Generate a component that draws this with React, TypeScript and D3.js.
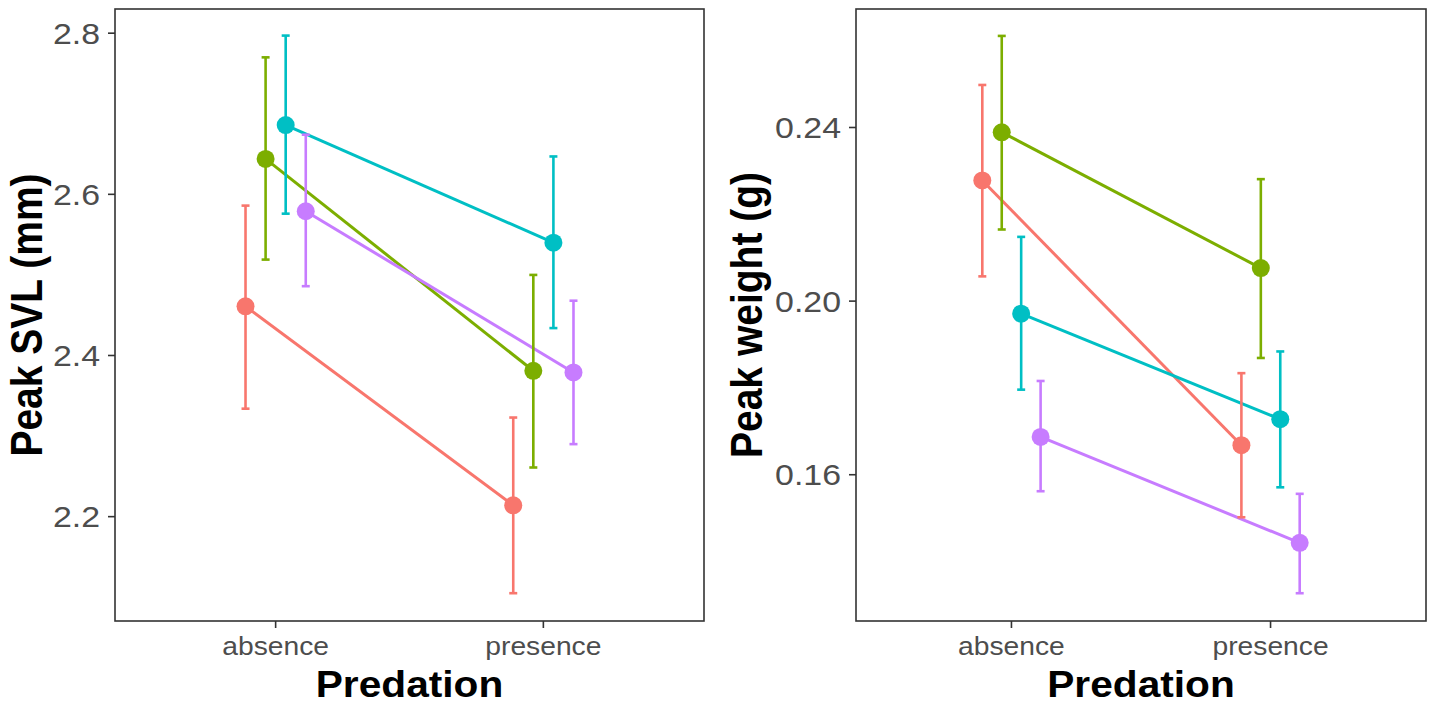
import React from "react";
import * as d3 from "d3";

const width = 1439;
const height = 704;

// predation levels and the four dodged groups (ggplot default hues)
const predation = ["absence", "presence"];
const colors = ["#F8766D", "#7CAE00", "#00BFC4", "#C77CFF"];

// Peak SVL (mm): [absence, presence] per group
const svlMean = [[2.461, 2.214], [2.644, 2.381], [2.686, 2.540], [2.579, 2.379]];
const svlLow = [[2.334, 2.105], [2.519, 2.261], [2.576, 2.434], [2.486, 2.290]];
const svlHigh = [[2.586, 2.323], [2.770, 2.500], [2.797, 2.647], [2.674, 2.468]];
const svlTicks = [2.2, 2.4, 2.6, 2.8];

// Peak weight (g)
const wtMean = [[0.2278, 0.1668], [0.2389, 0.2076], [0.1971, 0.1728], [0.1687, 0.1443]];
const wtLow = [[0.2057, 0.1502], [0.2165, 0.1869], [0.1796, 0.1571], [0.1562, 0.1327]];
const wtHigh = [[0.2498, 0.1834], [0.2611, 0.2281], [0.2148, 0.1884], [0.1816, 0.1556]];
const wtTicks = [0.16, 0.20, 0.24];

const font = "'Liberation Sans', Arial, Helvetica, sans-serif";
const stretch = 1.13;
const dodge = 0.3;

type PanelProps = {
  left: number;
  right: number;
  domain: [number, number];
  ticks: number[];
  fmt: (v: number) => string;
  mean: number[][];
  low: number[][];
  high: number[][];
  ylabel: string;
  titleX: number;
};

const top = 9;
const bottom = 621;

function Panel({ left, right, domain, ticks, fmt, mean, low, high, ylabel, titleX }: PanelProps) {
  const x = d3.scaleLinear().domain([0.4, 2.6]).range([left, right]);
  const y = d3.scaleLinear().domain(domain).range([bottom, top]);
  const n = colors.length;
  const xPos = (g: number, s: number) => x(g + 1 + (s - (n - 1) / 2) * (dodge / n));
  const line = d3.line<[number, number]>().x(d => d[0]).y(d => d[1]);
  const cap = 4;

  return (
    <g>
      {colors.map((c, s) => (
        <path
          key={"l" + s}
          d={line(predation.map((_, g) => [xPos(g, s), y(mean[s][g])]) as [number, number][]) || ""}
          stroke={c}
          strokeWidth={3}
          fill="none"
        />
      ))}
      {colors.map((c, s) =>
        predation.map((_, g) => {
          const cx = xPos(g, s);
          return (
            <g key={"e" + s + g} stroke={c} strokeWidth={2.6}>
              <line x1={cx} x2={cx} y1={y(low[s][g])} y2={y(high[s][g])} />
              <line x1={cx - cap} x2={cx + cap} y1={y(low[s][g])} y2={y(low[s][g])} />
              <line x1={cx - cap} x2={cx + cap} y1={y(high[s][g])} y2={y(high[s][g])} />
            </g>
          );
        })
      )}
      {colors.map((c, s) =>
        predation.map((_, g) => (
          <circle key={"p" + s + g} cx={xPos(g, s)} cy={y(mean[s][g])} r={9} fill={c} />
        ))
      )}
      <rect x={left} y={top} width={right - left} height={bottom - top} fill="none" stroke="#333333" strokeWidth={1.6} />
      {ticks.map(t => (
        <g key={"yt" + t}>
          <line x1={left - 7} x2={left} y1={y(t)} y2={y(t)} stroke="#333333" strokeWidth={1.6} />
          <text
            transform={`translate(${left - 15},${y(t) + 10.5}) scale(${stretch},1)`}
            textAnchor="end"
            fontSize={30}
            fontFamily={font}
            fill="#4d4d4d"
          >
            {fmt(t)}
          </text>
        </g>
      ))}
      {predation.map((p, g) => (
        <g key={"xt" + p}>
          <line x1={x(g + 1)} x2={x(g + 1)} y1={bottom} y2={bottom + 7} stroke="#333333" strokeWidth={1.6} />
          <text
            transform={`translate(${x(g + 1)},${655}) scale(${stretch},1)`}
            textAnchor="middle"
            fontSize={25}
            fontFamily={font}
            fill="#4d4d4d"
          >
            {p}
          </text>
        </g>
      ))}
      <text
        transform={`translate(${(left + right) / 2},${697}) scale(${stretch},1)`}
        textAnchor="middle"
        fontSize={36}
        fontWeight="bold"
        fontFamily={font}
        fill="#000"
      >
        Predation
      </text>
      <text
        transform={`translate(${titleX},${(top + bottom) / 2}) scale(${stretch},1) rotate(-90)`}
        textAnchor="middle"
        fontSize={39}
        fontWeight="bold"
        fontFamily={font}
        fill="#000"
      >
        {ylabel}
      </text>
    </g>
  );
}

export default function App() {
  // y domains from the panel edges
  const svlDomain: [number, number] = [2.0705, 2.830];
  const wtDomain: [number, number] = [0.1263, 0.2673];
  return (
    <svg
      width={width}
      height={height}
      style={{ position: "absolute", left: 0, top: 0, background: "#fff" }}
    >
      <rect width={width} height={height} fill="#fff" />
      <Panel
        left={115}
        right={704}
        domain={svlDomain}
        ticks={svlTicks}
        fmt={d3.format(".1f")}
        mean={svlMean}
        low={svlLow}
        high={svlHigh}
        ylabel="Peak SVL (mm)"
        titleX={42}
      />
      <Panel
        left={856}
        right={1426}
        domain={wtDomain}
        ticks={wtTicks}
        fmt={d3.format(".2f")}
        mean={wtMean}
        low={wtLow}
        high={wtHigh}
        ylabel="Peak weight (g)"
        titleX={762}
      />
    </svg>
  );
}
